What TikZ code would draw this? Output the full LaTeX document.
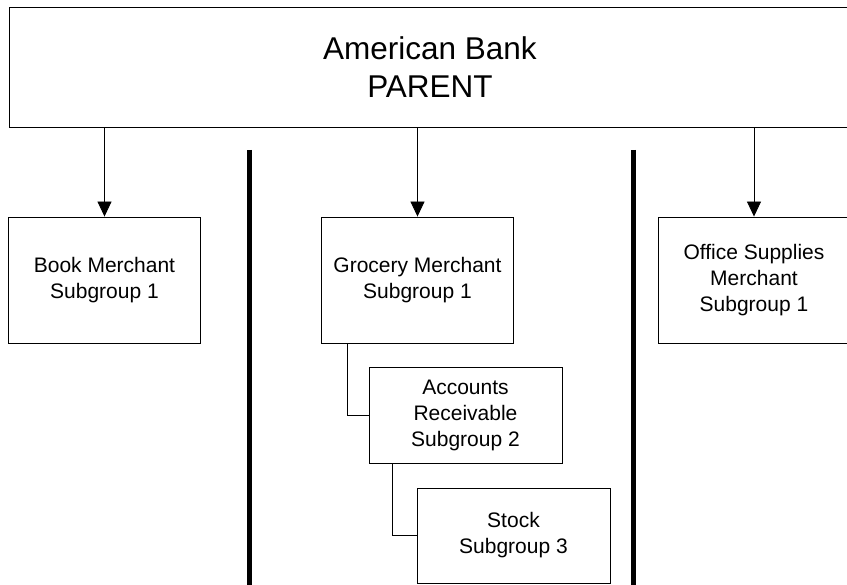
\documentclass[tikz,border=0pt]{standalone}
\usepackage{fontspec}
\setmainfont{Liberation Sans}
\usetikzlibrary{arrows.meta}
\tikzset{>={Triangle[length=15pt,width=14pt]}}
\tikzset{
  box/.style={draw,line width=0.9pt,align=center,inner sep=0pt,
    minimum width=192pt,minimum height=126pt,
    font=\fontsize{21}{26}\selectfont},
  subbox/.style={box,minimum width=193pt,minimum height=96pt},
  divider/.style={line width=5pt}
}

\begin{document}
\begin{tikzpicture}[x=1pt,y=-1pt]
\useasboundingbox (0,0) rectangle (847,585);
\node [box,minimum width=842pt,minimum height=120pt,font=\fontsize{31.5}{38}\selectfont] (parent) at (430,67) {American Bank\\PARENT};
\node [box] (book) at (104.5,280) {Book Merchant\\Subgroup 1};
\node [box] (grocery) at (417.5,280) {Grocery Merchant\\Subgroup 1};
\node [box] (office) at (754,280) {Office Supplies\\Merchant\\Subgroup 1};
\node [subbox] (accounts) at (465.5,415) {Accounts\\Receivable\\Subgroup 2};
\node [subbox,minimum height=95pt] (stock) at (513.5,535.5) {Stock\\Subgroup 3};
\draw [->,line width=0.8pt] (parent.south -| book) -- (book);
\draw [->,line width=0.8pt] (parent.south -| grocery) -- (grocery);
\draw [->,line width=0.8pt] (parent.south -| office) -- (office);
\draw [line width=0.8pt] ([xshift=26pt]grocery.south west) |- (accounts.west);
\draw [line width=0.8pt] ([xshift=24pt]accounts.south west) |- (stock.west);
\draw [divider] (249,150) -- (249,585);
\draw [divider] (633,150) -- (633,585);
\end{tikzpicture}
\end{document}
